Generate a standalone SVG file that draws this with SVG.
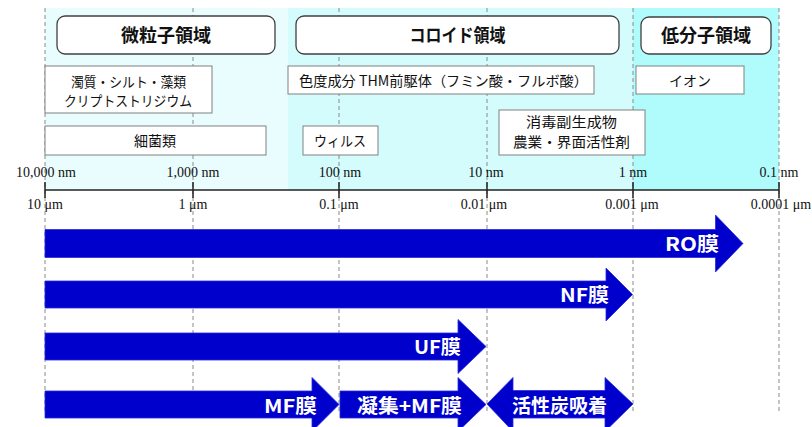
<svg xmlns="http://www.w3.org/2000/svg" width="812" height="427" viewBox="0 0 812 427">
<style>
.grid line{stroke:#8a8a8a;stroke-width:1;stroke-dasharray:4 3}
.hdr{fill:#fff;stroke:#404040;stroke-width:1.3}
.box{fill:#fff;stroke:#808080;stroke-width:1}
.ht{font-family:"Noto Sans CJK JP","Noto Sans",sans-serif;font-size:18px;font-weight:bold;fill:#111;text-anchor:middle}
.bt{font-family:"Noto Sans CJK JP","Noto Sans",sans-serif;font-size:14px;fill:#111}
.ax{font-family:"Liberation Serif","Times New Roman",serif;font-size:14px;fill:#111;text-anchor:middle}
.arr{fill:#0000cc;stroke:#2a2ae0;stroke-width:0.8}
.at{font-family:"Noto Sans CJK JP","Noto Sans",sans-serif;font-size:19px;font-weight:bold;fill:#fff}
</style>
<g id="background">
<rect x="45" y="8" width="243" height="182" fill="#e9fdfe"/>
<rect x="288" y="8" width="345" height="182" fill="#d5fcfd"/>
<rect x="633" y="8" width="146" height="182" fill="#b0fcfc"/>
</g>
<g id="grid" class="grid">
<line x1="45" y1="8" x2="45" y2="412"/>
<line x1="193" y1="8" x2="193" y2="412"/>
<line x1="339" y1="8" x2="339" y2="412"/>
<line x1="487" y1="8" x2="487" y2="412"/>
<line x1="633" y1="8" x2="633" y2="412"/>
<line x1="779" y1="8" x2="779" y2="412"/>
</g>
<g id="axis">
<line x1="45" y1="190" x2="779" y2="190" stroke="#222" stroke-width="1.3"/>
<g stroke="#222" stroke-width="1.5">
<line x1="45" y1="182" x2="45" y2="198"/>
<line x1="193" y1="182" x2="193" y2="198"/>
<line x1="339" y1="182" x2="339" y2="198"/>
<line x1="487" y1="182" x2="487" y2="198"/>
<line x1="633" y1="182" x2="633" y2="198"/>
<line x1="779" y1="182" x2="779" y2="198"/>
</g>
<text class="ax" x="46" y="177">10,000 nm</text>
<text class="ax" x="193" y="177">1,000 nm</text>
<text class="ax" x="340" y="177">100 nm</text>
<text class="ax" x="486" y="177">10 nm</text>
<text class="ax" x="633" y="177">1 nm</text>
<text class="ax" x="779" y="177">0.1 nm</text>
<text class="ax" x="45" y="209">10 μm</text>
<text class="ax" x="193" y="209">1 μm</text>
<text class="ax" x="339" y="209">0.1 μm</text>
<text class="ax" x="484" y="209">0.01 μm</text>
<text class="ax" x="632" y="209">0.001 μm</text>
<text class="ax" x="781" y="209">0.0001 μm</text>
</g>
<g id="region-particle">
<rect class="hdr" x="57" y="16" width="218" height="38" rx="8"/>
<text class="ht" x="166" y="42">微粒子領域</text>
</g>
<g id="region-colloid">
<rect class="hdr" x="296" y="16" width="323" height="38" rx="8"/>
<text class="ht" x="457.5" y="42" textLength="96" lengthAdjust="spacingAndGlyphs">コロイド領域</text>
</g>
<g id="region-lowmol">
<rect class="hdr" x="641" y="17" width="130" height="37" rx="8"/>
<text class="ht" x="706" y="42">低分子領域</text>
</g>
<g id="turbidity">
<rect class="box" x="45" y="66" width="167" height="47"/>
<text class="bt" x="71" y="87" textLength="115" lengthAdjust="spacingAndGlyphs">濁質・シルト・藻類</text>
<text class="bt" x="64" y="106" textLength="128" lengthAdjust="spacingAndGlyphs">クリプトストリジウム</text>
</g>
<g id="color">
<rect class="box" x="288" y="66" width="306" height="28"/>
<text class="bt" x="299" y="86" textLength="289" lengthAdjust="spacingAndGlyphs">色度成分 THM前駆体（フミン酸・フルボ酸）</text>
</g>
<g id="ion">
<rect class="box" x="636" y="66" width="108" height="28"/>
<text class="bt" x="690" y="86" text-anchor="middle">イオン</text>
</g>
<g id="bacteria">
<rect class="box" x="45" y="126" width="221" height="29"/>
<text class="bt" x="155" y="146" text-anchor="middle">細菌類</text>
</g>
<g id="virus">
<rect class="box" x="303" y="126" width="75" height="29"/>
<text class="bt" x="314" y="146" textLength="52" lengthAdjust="spacingAndGlyphs">ウィルス</text>
</g>
<g id="byproducts">
<rect class="box" x="499" y="110" width="146" height="45"/>
<text class="bt" x="526" y="127" textLength="91" lengthAdjust="spacingAndGlyphs">消毒副生成物</text>
<text class="bt" x="513" y="147" textLength="117" lengthAdjust="spacingAndGlyphs">農業・界面活性剤</text>
</g>
<g id="ro">
<path class="arr" d="M45,229.5 H715.5 V215 L743,243.5 L715.5,272 V257.5 H45 Z"/>
<text class="at" x="665" y="251" textLength="54" lengthAdjust="spacingAndGlyphs">RO膜</text>
</g>
<g id="nf">
<path class="arr" d="M45,281 H606 V268 L632.5,294.5 L606,321 V308 H45 Z"/>
<text class="at" x="560" y="302" textLength="49" lengthAdjust="spacingAndGlyphs">NF膜</text>
</g>
<g id="uf">
<path class="arr" d="M45,333 H458 V319.5 L486,346.5 L458,373.5 V360 H45 Z"/>
<text class="at" x="414" y="354" textLength="47" lengthAdjust="spacingAndGlyphs">UF膜</text>
</g>
<g id="mf">
<path class="arr" d="M45,391 H312 V377.5 L339,404.5 L312,431.5 V418 H45 Z"/>
<text class="at" x="264" y="413" textLength="53" lengthAdjust="spacingAndGlyphs">MF膜</text>
</g>
<g id="coag-mf">
<path class="arr" d="M340,391 H458 V377.5 L486,404.5 L458,431.5 V418 H340 Z"/>
<text class="at" x="357" y="413" textLength="105" lengthAdjust="spacingAndGlyphs">凝集+MF膜</text>
</g>
<g id="activated-carbon">
<path class="arr" d="M487,404 L513,377.5 V390.5 H605 V377.5 L633,404 L605,431.5 V418 H513 V431.5 Z"/>
<text class="at" x="512" y="413" textLength="95" lengthAdjust="spacingAndGlyphs">活性炭吸着</text>
</g>
</svg>
